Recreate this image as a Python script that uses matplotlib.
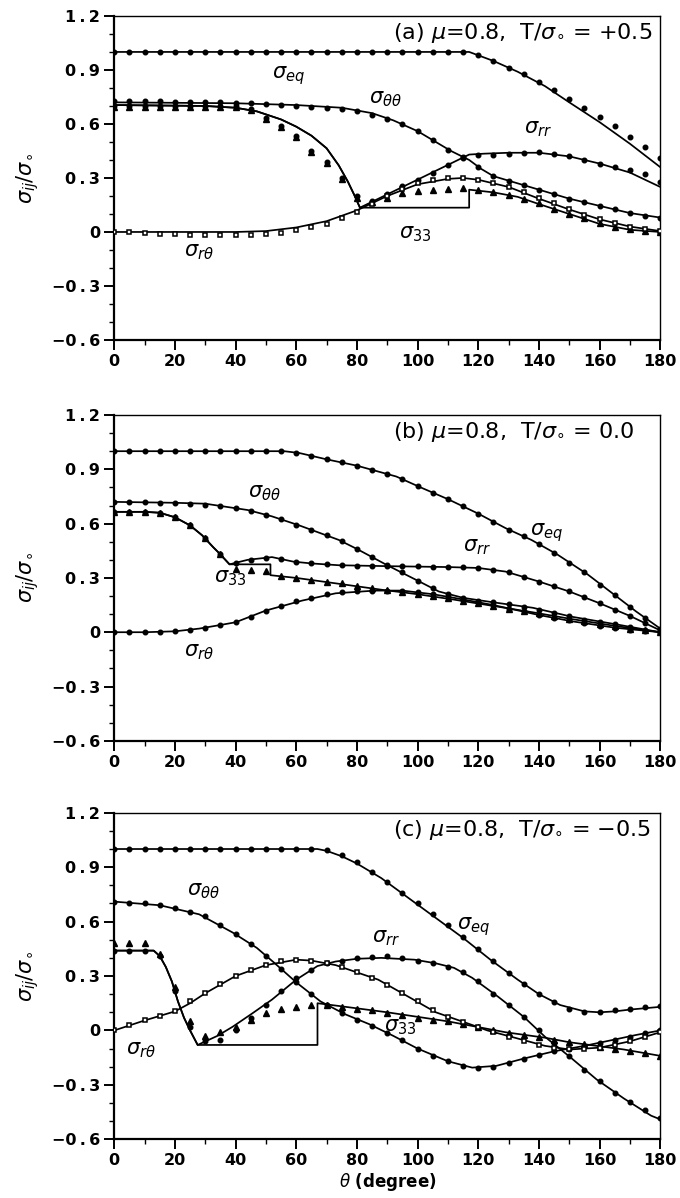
import numpy as np
import matplotlib
matplotlib.use("Agg")
import matplotlib.pyplot as plt
from matplotlib.ticker import MultipleLocator, FixedLocator, FixedFormatter

# angles of the computed points (degrees)
theta_pts = np.arange(0, 181, 5)

# ---------------- (a) mu=0.8, T/sigma_o = +0.5 ----------------
a_eq_x = [0, 117, 125, 133, 142, 150, 160, 170, 180]
a_eq_y = [1.0, 1.0, 0.95, 0.89, 0.81, 0.72, 0.61, 0.49, 0.36]
a_eq_pts = [1.0] * 24 + [0.985, 0.95, 0.91, 0.875, 0.835, 0.79, 0.74, 0.69, 0.64, 0.59, 0.53, 0.47, 0.41]

a_tt_x = [0, 40, 60, 75, 85, 92, 100, 106, 111, 117, 121, 125, 133, 143, 150, 160, 170, 180]
a_tt_y = [0.72, 0.715, 0.705, 0.69, 0.66, 0.62, 0.56, 0.50, 0.45, 0.40, 0.35, 0.31, 0.27, 0.22, 0.185, 0.145, 0.105, 0.08]
a_tt_pts = [0.725, 0.725, 0.725, 0.725, 0.72, 0.72, 0.72, 0.72, 0.715, 0.715,
            0.71, 0.705, 0.70, 0.695, 0.69, 0.685, 0.67, 0.65, 0.63, 0.60,
            0.56, 0.51, 0.455, 0.415, 0.36, 0.31, 0.285, 0.26, 0.235, 0.21,
            0.185, 0.165, 0.145, 0.125, 0.105, 0.09, 0.08]

a_rr_x = [0, 30, 40, 47, 55, 60, 65, 70, 74, 77, 79, 81, 117, 122, 130, 140, 150, 160, 170, 180]
a_rr_y = [0.705, 0.70, 0.69, 0.67, 0.625, 0.585, 0.535, 0.465, 0.37, 0.28, 0.21, 0.135,
          0.43, 0.435, 0.44, 0.44, 0.42, 0.38, 0.33, 0.25]
a_rr_pts = [0.70, 0.70, 0.70, 0.70, 0.70, 0.70, 0.70, 0.70, 0.70, 0.685,
            0.635, 0.59, 0.535, 0.45, 0.39, 0.30, 0.20, 0.17, 0.21, 0.255,
            0.29, 0.33, 0.37, 0.41, 0.425, 0.43, 0.435, 0.44, 0.445, 0.435,
            0.42, 0.40, 0.38, 0.36, 0.345, 0.32, 0.28]

a_33_x = [0, 30, 40, 47, 55, 60, 65, 70, 74, 77, 79, 81, 117, 117, 125, 133, 140, 150, 160, 170, 180]
a_33_y = [0.705, 0.70, 0.69, 0.67, 0.625, 0.585, 0.535, 0.465, 0.37, 0.28, 0.21, 0.135,
          0.135, 0.235, 0.22, 0.195, 0.155, 0.10, 0.045, 0.012, 0.0]
a_33_pts = [0.695, 0.695, 0.695, 0.695, 0.695, 0.695, 0.695, 0.695, 0.695, 0.675,
            0.63, 0.585, 0.53, 0.445, 0.385, 0.295, 0.19, 0.165, 0.19, 0.215,
            0.225, 0.235, 0.24, 0.245, 0.235, 0.22, 0.205, 0.185, 0.16, 0.13,
            0.10, 0.075, 0.05, 0.03, 0.015, 0.005, 0.0]

a_rt_x = [0, 20, 40, 50, 60, 70, 80, 90, 100, 110, 115, 120, 130, 140, 150, 160, 170, 180]
a_rt_y = [0.0, 0.0, 0.0, 0.005, 0.025, 0.06, 0.12, 0.20, 0.265, 0.295, 0.30, 0.29,
          0.25, 0.185, 0.125, 0.07, 0.03, 0.005]
a_rt_pts = [0.0, 0.0, -0.005, -0.01, -0.01, -0.015, -0.015, -0.015, -0.015, -0.015,
            -0.01, -0.005, 0.01, 0.025, 0.045, 0.075, 0.11, 0.155, 0.20, 0.24,
            0.27, 0.29, 0.30, 0.30, 0.29, 0.27, 0.25, 0.22, 0.19, 0.16,
            0.125, 0.095, 0.07, 0.05, 0.03, 0.015, 0.005]

# ---------------- (b) mu=0.8, T/sigma_o = 0.0 ----------------
b_eq_x = [0, 56, 61, 70, 80, 93, 101, 110, 120, 129, 137.5, 146, 156, 165, 172, 180]
b_eq_y = [1.0, 1.0, 0.99, 0.955, 0.92, 0.86, 0.80, 0.735, 0.655, 0.575, 0.51, 0.43, 0.32, 0.205, 0.115, 0.02]
b_eq_pts = [1.0] * 12 + [0.99, 0.975, 0.955, 0.94, 0.92, 0.895, 0.875, 0.845, 0.81, 0.77,
                         0.735, 0.695, 0.655, 0.61, 0.565, 0.53, 0.49, 0.44, 0.385, 0.33,
                         0.26, 0.205, 0.14, 0.08, 0.02]

b_tt_x = [0, 20, 30, 44, 52, 61, 74, 80, 90, 100, 107, 115, 125, 138, 151, 165, 180]
b_tt_y = [0.72, 0.715, 0.71, 0.675, 0.64, 0.59, 0.51, 0.46, 0.37, 0.285, 0.225, 0.19,
          0.165, 0.135, 0.085, 0.045, 0.0]
b_tt_pts = [0.72, 0.72, 0.72, 0.715, 0.715, 0.71, 0.705, 0.695, 0.685, 0.67,
            0.65, 0.625, 0.595, 0.565, 0.535, 0.505, 0.46, 0.415, 0.37, 0.33,
            0.285, 0.245, 0.21, 0.19, 0.175, 0.165, 0.155, 0.14, 0.125, 0.105,
            0.09, 0.07, 0.055, 0.045, 0.03, 0.015, 0.0]

b_rr_x = [0, 10, 15, 20, 25, 29, 32.6, 34.7, 38, 44, 52, 59, 65, 74, 90, 110, 120, 129,
          140, 150, 160, 170, 180]
b_rr_y = [0.665, 0.665, 0.66, 0.635, 0.59, 0.535, 0.47, 0.435, 0.375, 0.40, 0.415, 0.39,
          0.38, 0.37, 0.365, 0.36, 0.355, 0.335, 0.28, 0.225, 0.16, 0.09, 0.01]
b_rr_pts = [0.665, 0.665, 0.665, 0.66, 0.635, 0.59, 0.52, 0.43, 0.385, 0.40,
            0.41, 0.405, 0.39, 0.38, 0.375, 0.37, 0.365, 0.365, 0.365, 0.365,
            0.365, 0.36, 0.36, 0.36, 0.355, 0.345, 0.33, 0.305, 0.28, 0.255,
            0.225, 0.195, 0.16, 0.125, 0.09, 0.05, 0.01]

b_33_x = [0, 10, 15, 20, 25, 29, 32.6, 34.7, 38, 51.5, 51.5, 60, 73, 88, 100, 112, 125,
          138, 150, 165, 180]
b_33_y = [0.665, 0.665, 0.66, 0.635, 0.59, 0.535, 0.47, 0.435, 0.375, 0.375, 0.315, 0.30,
          0.27, 0.235, 0.21, 0.18, 0.145, 0.11, 0.075, 0.035, 0.0]
b_33_pts = [0.665, 0.665, 0.665, 0.66, 0.635, 0.59, 0.52, 0.43, 0.35, 0.345,
            0.34, 0.31, 0.30, 0.29, 0.28, 0.27, 0.255, 0.245, 0.235, 0.22,
            0.21, 0.20, 0.19, 0.175, 0.16, 0.145, 0.13, 0.12, 0.105, 0.09,
            0.075, 0.06, 0.045, 0.035, 0.02, 0.01, 0.0]

b_rt_x = [0, 10, 20, 28, 35, 40, 50, 62, 73, 86, 95, 105, 112, 125, 140, 151, 165, 180]
b_rt_y = [0.0, 0.0, 0.005, 0.02, 0.04, 0.055, 0.12, 0.175, 0.215, 0.23, 0.23, 0.21,
          0.19, 0.15, 0.095, 0.06, 0.025, 0.0]
b_rt_pts = [0.0, 0.0, 0.0, 0.002, 0.005, 0.015, 0.025, 0.04, 0.055, 0.085,
            0.12, 0.145, 0.17, 0.19, 0.21, 0.22, 0.225, 0.23, 0.23, 0.23,
            0.22, 0.21, 0.195, 0.18, 0.165, 0.15, 0.13, 0.115, 0.095, 0.08,
            0.065, 0.05, 0.035, 0.025, 0.015, 0.005, 0.0]

# ---------------- (c) mu=0.8, T/sigma_o = -0.5 ----------------
c_eq_x = [0, 67, 70, 75, 80, 88, 97, 106, 115, 124, 133, 140, 147, 155, 160, 165, 170, 180]
c_eq_y = [1.0, 1.0, 0.99, 0.96, 0.92, 0.84, 0.73, 0.62, 0.51, 0.39, 0.28, 0.20, 0.14,
          0.105, 0.10, 0.105, 0.115, 0.13]
c_eq_pts = [1.0] * 14 + [0.995, 0.965, 0.93, 0.875, 0.82, 0.76, 0.70, 0.64, 0.58, 0.515,
                         0.45, 0.38, 0.315, 0.255, 0.20, 0.155, 0.12, 0.10, 0.10, 0.11,
                         0.12, 0.13, 0.135]

c_tt_x = [0, 15, 28, 39, 47, 52.6, 60, 68, 76, 84, 92, 100, 110, 118, 126, 135, 145, 155,
          165, 172, 180]
c_tt_y = [0.71, 0.69, 0.64, 0.54, 0.455, 0.375, 0.265, 0.16, 0.09, 0.035, -0.03, -0.10,
          -0.17, -0.205, -0.195, -0.155, -0.115, -0.085, -0.05, -0.025, 0.0]
c_tt_pts = [0.71, 0.705, 0.70, 0.69, 0.675, 0.655, 0.63, 0.58, 0.53, 0.475,
            0.41, 0.34, 0.265, 0.20, 0.14, 0.095, 0.06, 0.025, -0.015, -0.055,
            -0.10, -0.14, -0.17, -0.195, -0.205, -0.20, -0.18, -0.155, -0.135, -0.115,
            -0.10, -0.085, -0.07, -0.05, -0.035, -0.015, 0.0]

c_rr_x = [0, 13, 15, 17, 19, 21, 23, 25, 27.5, 34, 39, 45.6, 52, 60, 67, 73, 80, 88, 99,
          106, 112, 118, 126.6, 135, 142, 150.5, 159, 168, 177, 180]
c_rr_y = [0.44, 0.44, 0.41, 0.35, 0.27, 0.16, 0.07, 0.0, -0.08, -0.03, 0.02, 0.095, 0.17,
          0.28, 0.355, 0.38, 0.395, 0.40, 0.39, 0.37, 0.345, 0.29, 0.185, 0.075, -0.035,
          -0.15, -0.27, -0.375, -0.47, -0.49]
c_rr_pts = [0.44, 0.44, 0.44, 0.41, 0.22, 0.02, -0.06, -0.05, 0.0, 0.07,
            0.14, 0.22, 0.29, 0.335, 0.37, 0.385, 0.40, 0.405, 0.41, 0.40,
            0.385, 0.37, 0.35, 0.32, 0.27, 0.20, 0.14, 0.075, 0.0, -0.07,
            -0.14, -0.22, -0.28, -0.345, -0.395, -0.44, -0.48]

c_33_x = [0, 13, 15, 17, 19, 21, 23, 25, 27.5, 67, 67, 74, 90, 110, 129, 142, 150, 168, 180]
c_33_y = [0.44, 0.44, 0.41, 0.35, 0.27, 0.16, 0.07, 0.0, -0.08, -0.08, 0.15, 0.135, 0.10,
          0.05, -0.01, -0.04, -0.065, -0.105, -0.14]
c_33_pts = [0.48, 0.48, 0.48, 0.42, 0.24, 0.05, -0.03, -0.01, 0.02, 0.06,
            0.095, 0.12, 0.13, 0.14, 0.14, 0.13, 0.12, 0.11, 0.095, 0.085,
            0.07, 0.06, 0.05, 0.035, 0.02, 0.005, -0.015, -0.025, -0.035, -0.05,
            -0.065, -0.075, -0.09, -0.10, -0.115, -0.125, -0.14]

c_rt_x = [0, 10, 15, 20, 25, 30, 40, 50, 60, 65, 73, 80, 87, 96, 106, 118, 123, 132, 142,
          150, 160, 170, 180]
c_rt_y = [0.0, 0.055, 0.08, 0.105, 0.15, 0.205, 0.30, 0.36, 0.39, 0.385, 0.36, 0.32, 0.28,
          0.195, 0.10, 0.03, 0.0, -0.04, -0.085, -0.105, -0.095, -0.06, -0.01]
c_rt_pts = [0.0, 0.03, 0.055, 0.08, 0.105, 0.16, 0.205, 0.255, 0.30, 0.335,
            0.36, 0.38, 0.39, 0.385, 0.37, 0.35, 0.32, 0.29, 0.25, 0.205,
            0.16, 0.11, 0.075, 0.045, 0.02, -0.01, -0.035, -0.06, -0.08, -0.095,
            -0.105, -0.105, -0.095, -0.08, -0.06, -0.035, -0.01]

titles = [r"(a) $\mu$=0.8,  T/$\sigma_{\circ}$ = +0.5",
          r"(b) $\mu$=0.8,  T/$\sigma_{\circ}$ = 0.0",
          r"(c) $\mu$=0.8,  T/$\sigma_{\circ}$ = $-$0.5"]

# curve labels: (text, theta, value) per panel
labels_a = [(r"$\sigma_{eq}$", 52, 0.87), (r"$\sigma_{\theta\theta}$", 84, 0.74),
            (r"$\sigma_{rr}$", 135, 0.57), (r"$\sigma_{33}$", 94, -0.01),
            (r"$\sigma_{r\theta}$", 23, -0.11)]
labels_b = [(r"$\sigma_{eq}$", 137, 0.55), (r"$\sigma_{\theta\theta}$", 44, 0.77),
            (r"$\sigma_{rr}$", 115, 0.47), (r"$\sigma_{33}$", 33, 0.30),
            (r"$\sigma_{r\theta}$", 23, -0.11)]
labels_c = [(r"$\sigma_{eq}$", 113, 0.57), (r"$\sigma_{\theta\theta}$", 24, 0.77),
            (r"$\sigma_{rr}$", 85, 0.51), (r"$\sigma_{33}$", 89, 0.02),
            (r"$\sigma_{r\theta}$", 4, -0.11)]

yticks = [-0.6, -0.3, 0, 0.3, 0.6, 0.9, 1.2]
ytick_text = ["\u22120\u2009.\u20096", "\u22120\u2009.\u20093", "0", "0\u2009.\u20093",
              "0\u2009.\u20096", "0\u2009.\u20099", "1\u2009.\u20092"]

circle = dict(marker="o", ms=3.3, mfc="black", mec="black", ls="none")
tri = dict(marker="^", ms=3.8, mfc="black", mec="black", ls="none")
square = dict(marker="s", ms=3.2, mfc="white", mec="black", mew=1.1, ls="none")


def draw_panel(ax, curves, labels, title, xlabel=False):
    for line_x, line_y, pts, style in curves:
        ax.plot(line_x, line_y, color="black", lw=1.25, zorder=2)
        ax.plot(theta_pts, pts, zorder=3, **style)

    for text, x, y in labels:
        ax.text(x, y, text, fontsize=15, ha="left", va="center")
    ax.text(92, 1.105, title, fontsize=16, ha="left", va="center")

    ax.set_xlim(0, 180)
    ax.set_ylim(-0.6, 1.2)
    ax.xaxis.set_major_locator(MultipleLocator(20))
    ax.xaxis.set_minor_locator(MultipleLocator(10))
    ax.yaxis.set_major_locator(FixedLocator(yticks))
    ax.yaxis.set_major_formatter(FixedFormatter(ytick_text))
    ax.yaxis.set_minor_locator(MultipleLocator(0.1))
    ax.tick_params(which="major", direction="out", length=7, width=1.4, labelsize=11.5, pad=3)
    ax.tick_params(which="minor", direction="out", length=3.5, width=1.0)
    for lbl in ax.get_xticklabels() + ax.get_yticklabels():
        lbl.set_fontweight("bold")
    for side in ["left", "bottom"]:
        ax.spines[side].set_linewidth(1.6)
    for side in ["top", "right"]:
        ax.spines[side].set_linewidth(1.0)

    ax.set_ylabel(r"$\sigma_{ij}/\sigma_{\circ}$", fontsize=15)
    ax.yaxis.set_label_coords(-0.135, 0.5)
    if xlabel:
        ax.set_xlabel(r"$\theta$ (degree)", fontsize=12, fontweight="bold", labelpad=2)


fig = plt.figure(figsize=(6.8, 11.98), dpi=100)
ax_a = fig.add_axes([0.168, 0.7162, 0.803, 0.2705])
ax_b = fig.add_axes([0.168, 0.3816, 0.803, 0.2720])
ax_c = fig.add_axes([0.168, 0.0490, 0.803, 0.2726])

draw_panel(ax_a, [(a_eq_x, a_eq_y, a_eq_pts, circle),
                  (a_tt_x, a_tt_y, a_tt_pts, circle),
                  (a_rr_x, a_rr_y, a_rr_pts, circle),
                  (a_33_x, a_33_y, a_33_pts, tri),
                  (a_rt_x, a_rt_y, a_rt_pts, square)], labels_a, titles[0])
draw_panel(ax_b, [(b_eq_x, b_eq_y, b_eq_pts, circle),
                  (b_tt_x, b_tt_y, b_tt_pts, circle),
                  (b_rr_x, b_rr_y, b_rr_pts, circle),
                  (b_33_x, b_33_y, b_33_pts, tri),
                  (b_rt_x, b_rt_y, b_rt_pts, circle)], labels_b, titles[1])
draw_panel(ax_c, [(c_eq_x, c_eq_y, c_eq_pts, circle),
                  (c_tt_x, c_tt_y, c_tt_pts, circle),
                  (c_rr_x, c_rr_y, c_rr_pts, circle),
                  (c_33_x, c_33_y, c_33_pts, tri),
                  (c_rt_x, c_rt_y, c_rt_pts, square)], labels_c, titles[2], xlabel=True)

fig.savefig("out.png", dpi=100)
